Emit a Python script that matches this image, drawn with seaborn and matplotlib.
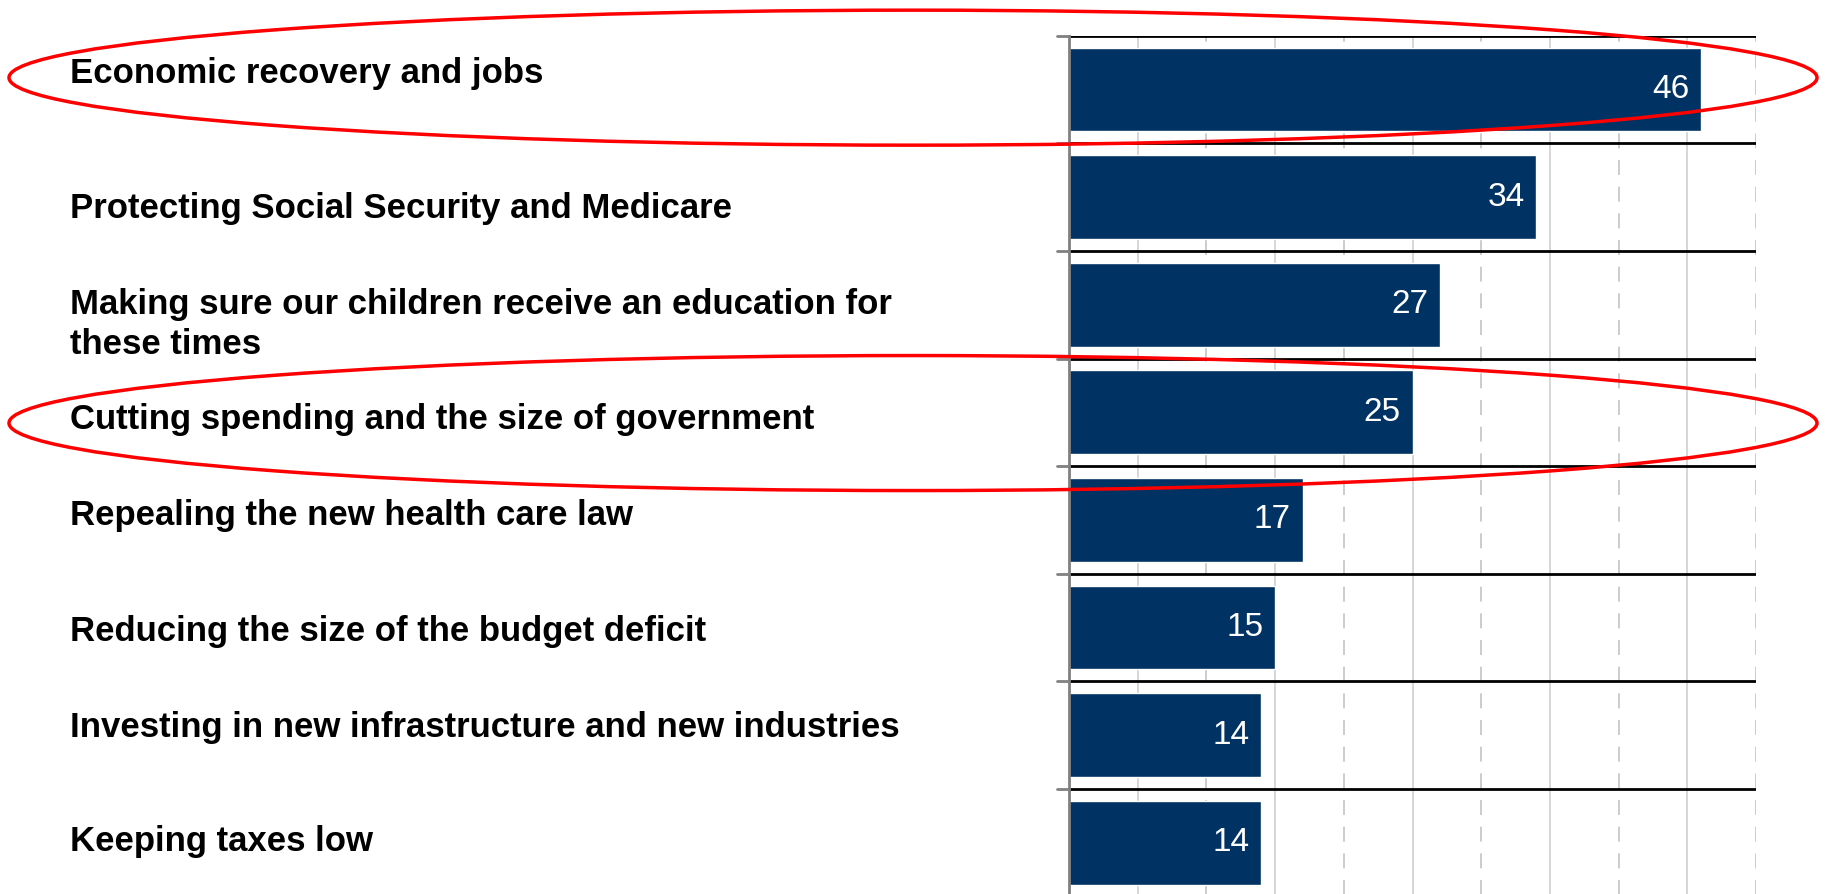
import numpy as np
import pandas as pd
import seaborn as sns
import matplotlib.pyplot as plt
from matplotlib.patches import Ellipse
from matplotlib.transforms import IdentityTransform, blended_transform_factory

# data
issues = ['Economic recovery and jobs',
          'Protecting Social Security and Medicare',
          'Making sure our children receive an education for\nthese times',
          'Cutting spending and the size of government',
          'Repealing the new health care law',
          'Reducing the size of the budget deficit',
          'Investing in new infrastructure and new industries',
          'Keeping taxes low']
pct = [46, 34, 27, 25, 17, 15, 14, 14]
circled = [0, 3]

df = pd.DataFrame({'issue': issues, 'pct': pct})

sns.set_style('white')
plt.rcParams['font.family'] = ['Liberation Sans', 'DejaVu Sans']

W, H = 1825, 894
fig = plt.figure(figsize=(W / 100, H / 100), dpi=100)
ax = fig.add_axes([1069 / W, (H - 896.5) / H, (1756 - 1069) / W, (896.5 - 35.7) / H])

bar_col = '#003363'
sns.barplot(data=df, x='pct', y='issue', orient='h', color=bar_col,
            width=0.78, saturation=1, ax=ax, zorder=3)

ax.set_xlim(0, 50)
ax.set_ylim(len(issues) - 0.5, -0.5)
ax.set_xlabel('')
ax.set_ylabel('')
ax.set_xticks([])
ax.set_yticks([])
for s in ['top', 'right', 'bottom']:
    ax.spines[s].set_visible(False)
ax.spines['left'].set_color('#808080')
ax.spines['left'].set_linewidth(2)
ax.spines['left'].set_zorder(5)

# grid: solid at odd fives, dashed at tens
for g in range(5, 51, 5):
    if g % 10 == 0:
        ax.axvline(g, color='#c4c4c4', lw=1.2, ls=(0, (9, 7)), zorder=1)
    else:
        ax.axvline(g, color='#cfcfcf', lw=1.2, zorder=1)

# row separators + small grey ticks on the left
for k in range(len(issues)):
    ax.axhline(k - 0.5, color='black', lw=2, zorder=4)
    ax.plot([-0.9, 0], [k - 0.5, k - 0.5], color='#808080', lw=2,
            clip_on=False, zorder=5)

# values inside the bar ends
for i, v in enumerate(pct):
    ax.text(v - 0.85, i, str(v), ha='right', va='center', color='white',
            fontsize=24, zorder=6)

# category labels on the left (baseline of the last line)
lab_tr = blended_transform_factory(fig.transFigure, ax.transData)
lab_dy = [-0.063, 0.19, 0.458, 0.155, 0.047, 0.125, 0.015, 0.077]
for i, name in enumerate(issues):
    ax.text(70 / W, i + lab_dy[i], name, transform=lab_tr, ha='left',
            va='baseline', fontsize=25, fontweight='bold', color='black',
            linespacing=1.27, clip_on=False)

# red highlight ellipses
ell_dy = {0: -0.11, 3: 0.10}
for i in circled:
    yc = ax.transData.transform((0, i + ell_dy[i]))[1]
    e = Ellipse((913, yc), 1808, 135, fill=False, ec='red', lw=2.5,
                transform=IdentityTransform(), clip_on=False, zorder=10)
    fig.add_artist(e)

fig.savefig('out.png', dpi=100)
